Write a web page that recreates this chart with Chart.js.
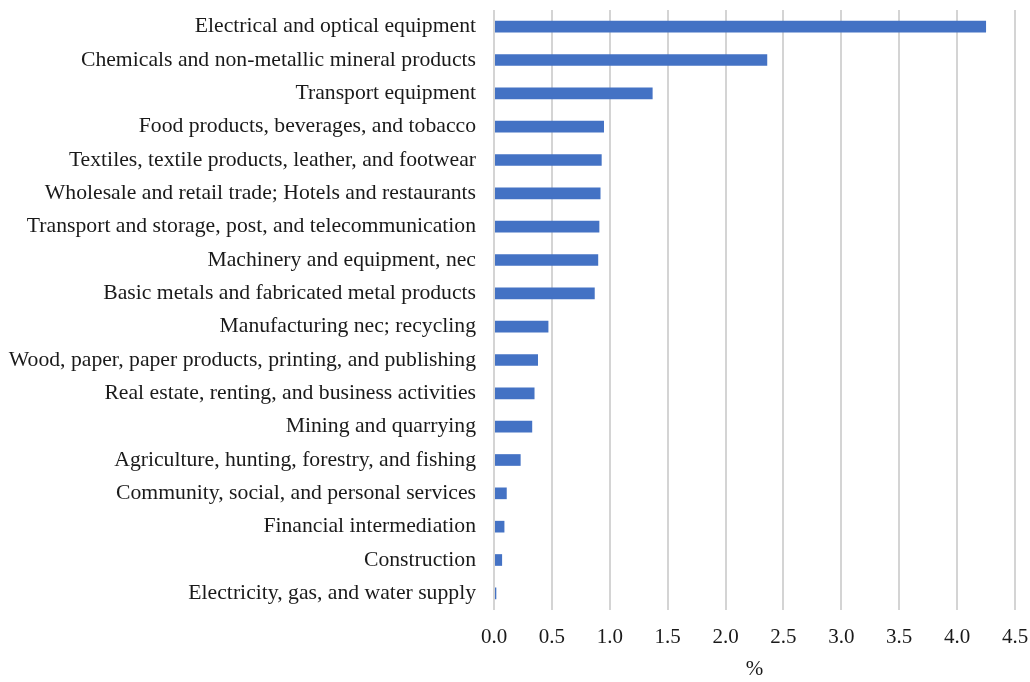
<!DOCTYPE html>
<html>
<head>
<meta charset="utf-8">
<script src="https://cdn.jsdelivr.net/npm/chart.js@4"></script>
<style>
  html, body { margin: 0; padding: 0; background: #fff; }
  #wrap { width: 1030px; height: 682px; }
</style>
</head>
<body>
<div id="wrap"><canvas id="chart-sektor"></canvas></div>
<script>
const sektor = [
  'Electrical and optical equipment',
  'Chemicals and non-metallic mineral products',
  'Transport equipment',
  'Food products, beverages, and tobacco',
  'Textiles, textile products, leather, and footwear',
  'Wholesale and retail trade; Hotels and restaurants',
  'Transport and storage, post, and telecommunication',
  'Machinery and equipment, nec',
  'Basic metals and fabricated metal products',
  'Manufacturing nec; recycling',
  'Wood, paper, paper products, printing, and publishing',
  'Real estate, renting, and business activities',
  'Mining and quarrying',
  'Agriculture, hunting, forestry, and fishing',
  'Community, social, and personal services',
  'Financial intermediation',
  'Construction',
  'Electricity, gas, and water supply'
];
const persen = [4.25, 2.36, 1.37, 0.95, 0.93, 0.92, 0.91, 0.90, 0.87, 0.47, 0.38, 0.35, 0.33, 0.23, 0.11, 0.09, 0.07, 0.02];
const xTicks = [0, 0.5, 1, 1.5, 2, 2.5, 3, 3.5, 4, 4.5];

const hurufLabel = { family: '"Liberation Serif", "Times New Roman", serif', size: 21.7 };
const hurufAngka = { family: '"Liberation Serif", "Times New Roman", serif', size: 21 };

const ctx = document.getElementById('chart-sektor').getContext('2d');
const chart = new Chart(ctx, {
  type: 'bar',
  data: {
    labels: sektor,
    datasets: [{
      data: persen,
      backgroundColor: '#4472C4',
      borderWidth: 0,
      categoryPercentage: 0.7,
      barPercentage: 0.5
    }]
  },
  options: {
    indexAxis: 'y',
    responsive: true,
    maintainAspectRatio: false,
    animation: false,
    layout: { padding: { top: 10, right: 15, bottom: 0, left: 0 } },
    plugins: { legend: { display: false }, tooltip: { enabled: false } },
    scales: {
      x: {
        min: 0,
        max: 4.5,
        afterBuildTicks: s => { s.ticks = xTicks.map(v => ({ value: v })); },
        afterFit: s => { s.height = 72; s.paddingLeft = 0; s.paddingRight = 0; },
        grid: { color: '#d4d4d4', lineWidth: 2, drawTicks: false },
        border: { display: false },
        ticks: {
          color: '#1a1a1a',
          font: hurufAngka,
          padding: 15,
          callback: v => Number(v).toFixed(1)
        },
        title: { display: true, text: '%', color: '#1a1a1a', font: hurufAngka, padding: { top: 4, bottom: 0 } }
      },
      y: {
        grid: { display: false, drawTicks: false },
        border: { display: false },
        afterFit: s => { s.width = 494; s.paddingTop = 0; s.paddingBottom = 0; },
        ticks: { color: '#1a1a1a', font: hurufLabel, padding: 18, autoSkip: false }
      }
    }
  }
});
</script>
</body>
</html>
